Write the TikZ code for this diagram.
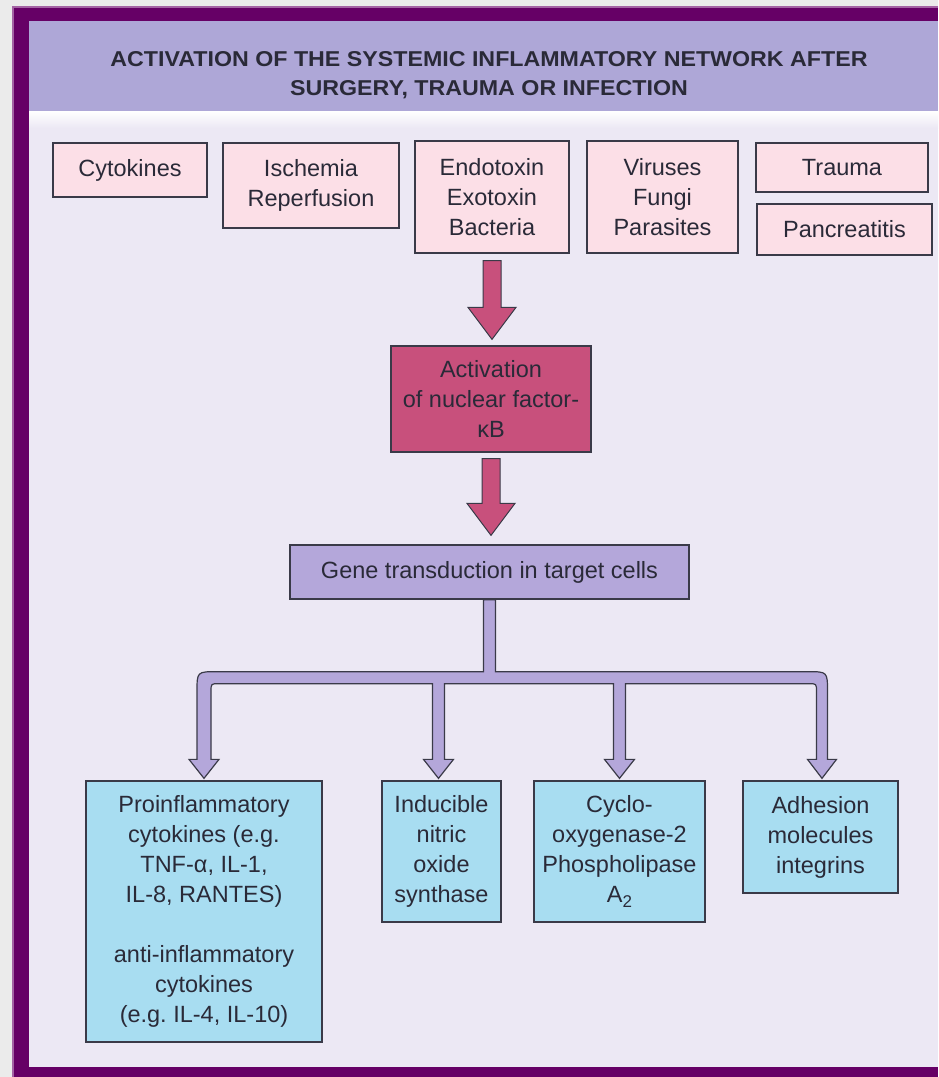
\documentclass[tikz,border=0pt]{standalone}
\usepackage{fontspec}
\setmainfont{Liberation Sans}
\newfontfamily\titlefont{Liberation Sans}[FakeStretch=1.08]
\usetikzlibrary{calc}
\frenchspacing
\definecolor{marginc}{HTML}{EBEBEB}
\definecolor{framec}{HTML}{660066}
\definecolor{framelight}{HTML}{A463A4}
\definecolor{panelc}{HTML}{ECE8F4}
\definecolor{bandc}{HTML}{AEA7D7}
\definecolor{pinkc}{HTML}{FCDFE7}
\definecolor{nfkc}{HTML}{C8507C}
\definecolor{genec}{HTML}{B4A7DA}
\definecolor{bluec}{HTML}{A8DDF1}
\definecolor{edgec}{HTML}{3A3A48}
\definecolor{txtc}{HTML}{2A2A38}
\tikzset{
  boxbase/.style={draw=edgec, line width=1.3pt, align=center, inner sep=0pt, text=txtc,
    font=\fontsize{23.5}{30}\selectfont},
  pinkbox/.style={boxbase, fill=pinkc},
  nfkbox/.style={boxbase, fill=nfkc},
  genebox/.style={boxbase, fill=genec},
  bluebox/.style={boxbase, fill=bluec},
  pinkarr/.style={fill=nfkc, draw=edgec, line width=1pt, line join=miter},
  brancharr/.style={fill=genec, draw=edgec, line width=1.2pt, line join=miter},
  titletext/.style={align=center, inner sep=0pt, text=txtc,
    font=\titlefont\bfseries\fontsize{21.5}{29}\selectfont}
}
\newcommand{\pinkarrow}[4]{% from, to, gap at start, gap at tip
  \path[pinkarr] let \p1=($(#1)+(0,#3)$), \p2=($(#2)+(0,-#4)$) in
    (\x1-9pt,\y1) -- (\x1-9pt,\y2+32pt) -- (\x1-24pt,\y2+32pt) -- (\x1,\y2)
    -- (\x1+24pt,\y2+32pt) -- (\x1+9pt,\y2+32pt) -- (\x1+9pt,\y1) -- cycle;}
\begin{document}
\begin{tikzpicture}[x=1pt,y=-1pt]
\useasboundingbox (0,0) rectangle (938,1077);
% background and frame
\fill[marginc] (0,0) rectangle (938,1077);
\fill[framec] (12,6) rectangle (938,1077);
\draw[framelight, line width=1.5pt] (12.75,1077) -- (12.75,6.75) -- (938,6.75);
\fill[panelc] (29,21) rectangle (938,1067);
\fill[bandc] (29,21) rectangle (938,111);
\shade[top color=white, bottom color=panelc] (29,111) rectangle (938,128);
% title
\node[titletext] (title) at (489,75) {ACTIVATION OF THE SYSTEMIC INFLAMMATORY NETWORK AFTER\\SURGERY, TRAUMA OR INFECTION};
% top row
\node[pinkbox, minimum width=154pt, minimum height=54pt] (cyt) at (130,170) {Cytokines};
\node[pinkbox, minimum width=176pt, minimum height=85pt] (isch) at (311,185.5) {Ischemia\\Reperfusion};
\node[pinkbox, minimum width=154pt, minimum height=112pt] (endo) at (492,197) {Endotoxin\\Exotoxin\\Bacteria};
\node[pinkbox, minimum width=151pt, minimum height=112pt] (vir) at (662.5,197) {Viruses\\Fungi\\Parasites};
\node[pinkbox, minimum width=172pt, minimum height=49pt] (trauma) at (842,167.5) {Trauma};
\node[pinkbox, minimum width=175pt, minimum height=51pt] (panc) at (844.5,229.5) {Pancreatitis};
% middle
\node[nfkbox, minimum width=200pt, minimum height=106pt] (nfkb) at (491,399) {Activation\\of nuclear factor-\\κB};
\node[genebox, minimum width=399pt, minimum height=54pt] (gene) at (489.5,572) {Gene transduction in target cells};
% bottom row
\node[bluebox, minimum width=236pt, minimum height=261pt] (pro) at (204,911.5)
  {Proinflammatory\\cytokines (e.g.\\TNF-α, IL-1,\\IL-8, RANTES)\\[30pt]anti-inflammatory\\cytokines\\(e.g. IL-4, IL-10)};
\node[bluebox, minimum width=119pt, minimum height=141pt] (ind) at (441.5,851.5) {Inducible\\nitric\\oxide\\synthase};
\node[bluebox, minimum width=171pt, minimum height=141pt] (cyc) at (619.5,851.5)
  {Cyclo-\\oxygenase-2\\Phospholipase\\A\raisebox{-5pt}{\fontsize{17}{17}\selectfont 2}};
\node[bluebox, minimum width=155pt, minimum height=112pt] (adh) at (820.5,837) {Adhesion\\molecules\\integrins};
% pink arrows
\pinkarrow{endo.south}{nfkb.north}{7}{6}
\pinkarrow{nfkb.south}{gene.north}{6}{9}
% branching connector
\path[brancharr] let \p0=(gene.south), \p1=(pro.north), \p2=(ind.north), \p3=(cyc.north), \p4=(adh.north) in
  (\x0-6pt,\y0) -- (\x0-6pt,\y0-72pt)
  -- (\x1+13pt,\y0-72pt) .. controls (\x1-7pt,\y0-72pt) .. (\x1-7pt,\y0-92pt)
  -- (\x1-7pt,\y1+21pt) -- (\x1-15pt,\y1+21pt) -- (\x1,\y1+2pt) -- (\x1+15pt,\y1+21pt) -- (\x1+7pt,\y1+21pt)
  -- (\x1+7pt,\y0-92pt) .. controls (\x1+7pt,\y0-84pt) .. (\x1+15pt,\y0-84pt)
  -- (\x2-9pt,\y0-84pt) -- (\x2-9pt,\y2+21pt) -- (\x2-18pt,\y2+21pt) -- (\x2-3pt,\y2+2pt) -- (\x2+12pt,\y2+21pt) -- (\x2+3pt,\y2+21pt)
  -- (\x2+3pt,\y0-84pt)
  -- (\x3-6pt,\y0-84pt) -- (\x3-6pt,\y3+21pt) -- (\x3-15pt,\y3+21pt) -- (\x3,\y3+2pt) -- (\x3+15pt,\y3+21pt) -- (\x3+6pt,\y3+21pt)
  -- (\x3+6pt,\y0-84pt)
  -- (\x4-12pt,\y0-84pt) .. controls (\x4-4pt,\y0-84pt) .. (\x4-4pt,\y0-92pt)
  -- (\x4-4pt,\y4+21pt) -- (\x4-13pt,\y4+21pt) -- (\x4+1.5pt,\y4+2pt) -- (\x4+16pt,\y4+21pt) -- (\x4+7pt,\y4+21pt)
  -- (\x4+7pt,\y0-92pt) .. controls (\x4+7pt,\y0-72pt) .. (\x4-13pt,\y0-72pt)
  -- (\x0+6pt,\y0-72pt) -- (\x0+6pt,\y0) -- cycle;
\end{tikzpicture}
\end{document}
